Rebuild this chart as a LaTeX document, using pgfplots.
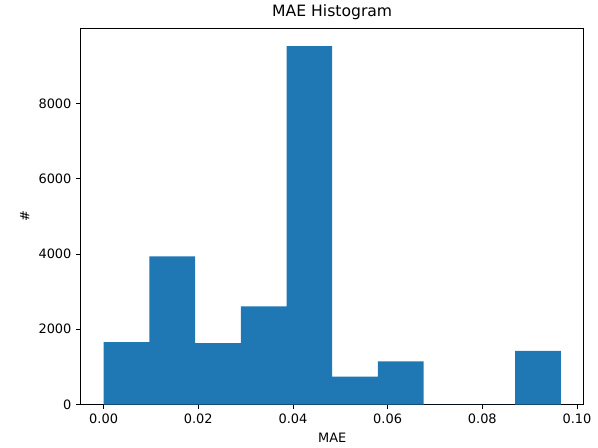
\documentclass[border=0pt]{standalone}
\usepackage{pgfplots}
\pgfplotsset{compat=1.18}
\usepackage{fontspec}
\setmainfont{DejaVu Sans}
\definecolor{tabblue}{HTML}{1F77B4}
\begin{document}
\begin{tikzpicture}
\begin{axis}[
    scale only axis,
    width=377pt, height=282pt,
    xmin=-0.00483, xmax=0.10142,
    ymin=0, ymax=9996,
    xtick={0,0.02,0.04,0.06,0.08,0.1},
    ytick={0,2000,4000,6000,8000},
    xticklabel style={/pgf/number format/.cd, fixed, fixed zerofill, precision=2},
    /pgf/number format/1000 sep={},
    /pgf/number format/assume math mode=true,
    tick align=outside,
    xtick pos=left, ytick pos=left,
    major tick length=3.4pt,
    tick style={black, line width=0.6pt},
    axis line style={line width=0.6pt},
    ticklabel style={font=\fontsize{9.7}{11}\selectfont},
    label style={font=\fontsize{9.7}{11}\selectfont},
    title style={font=\fontsize{11.7}{13}\selectfont, yshift=-3pt},
    title={MAE Histogram},
    xlabel={MAE},
    ylabel={\#},
]
\addplot[ybar interval, fill=tabblue, draw=none] coordinates {
    (0.00000, 1657)
    (0.00966, 3938)
    (0.01932, 1630)
    (0.02898, 2610)
    (0.03864, 9520)
    (0.04830, 739)
    (0.05795, 1149)
    (0.06761, 0)
    (0.07727, 0)
    (0.08693, 1425)
    (0.09659, 1425)
};
\end{axis}
\useasboundingbox ([xshift=-60.5pt,yshift=-32pt]current axis.south west) rectangle ([xshift=10.7pt,yshift=19.5pt]current axis.north east);
\end{tikzpicture}
\end{document}
